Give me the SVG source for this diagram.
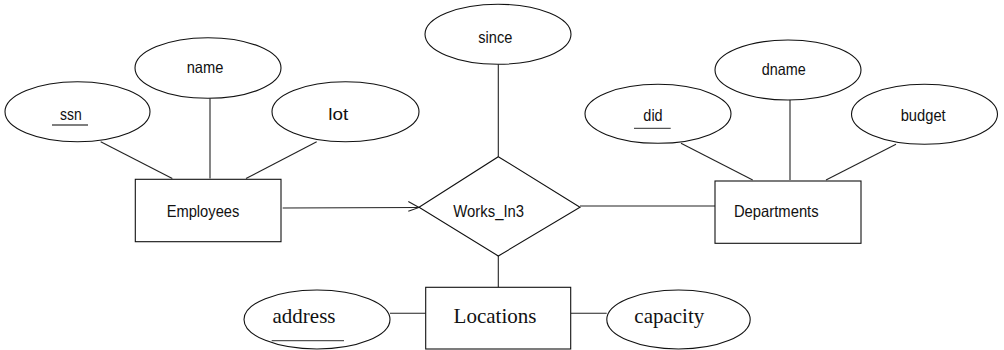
<svg xmlns="http://www.w3.org/2000/svg" width="1004" height="350" viewBox="0 0 1004 350">
<style>
.s{fill:#fff;stroke:#111;stroke-width:1.1}
.c{fill:none;stroke:#222;stroke-width:1.1}
.t{font-family:"Liberation Sans",Arial,sans-serif;font-size:16.5px;fill:#111;text-anchor:middle}
.r{font-family:"Liberation Serif","Times New Roman",serif;font-size:21px;fill:#111;text-anchor:middle}
.u{stroke:#555;stroke-width:1.3}
</style>
<rect width="1004" height="350" fill="#fff"/>
<g id="connectors">
<line class="c" x1="100.7" y1="141.7" x2="172.3" y2="178.5"/>
<line class="c" x1="210" y1="98.3" x2="210" y2="178.5"/>
<line class="c" x1="316.7" y1="141.7" x2="246" y2="178.5"/>
<line class="c" x1="681" y1="143.3" x2="752.7" y2="180"/>
<line class="c" x1="790" y1="100" x2="790" y2="180"/>
<line class="c" x1="896" y1="144.3" x2="826" y2="180"/>
<line class="c" x1="498.3" y1="64.3" x2="498.3" y2="156.7"/>
<line class="c" x1="282.7" y1="208" x2="419" y2="207.5"/>
<polyline class="c" points="408.3,201.5 419,207.5 408.3,211.3"/>
<line class="c" x1="580" y1="206" x2="715" y2="206"/>
<line class="c" x1="498.3" y1="256" x2="498.3" y2="287.3"/>
<line class="c" x1="390" y1="313.3" x2="425.7" y2="313.3"/>
<line class="c" x1="570.7" y1="313.3" x2="606.7" y2="313.3"/>
</g>
<g id="ssn"><ellipse class="s" cx="77.5" cy="111.7" rx="72.5" ry="30"/><text class="t" x="70.8" y="120" textLength="21.7" lengthAdjust="spacingAndGlyphs">ssn</text><line class="u" x1="52" y1="125" x2="88" y2="125"/></g>
<g id="name"><ellipse class="s" cx="208" cy="68" rx="73" ry="30.3"/><text class="t" x="205" y="73" textLength="36.7" lengthAdjust="spacingAndGlyphs">name</text></g>
<g id="lot"><ellipse class="s" cx="345.5" cy="111.7" rx="73.5" ry="30"/><text class="t" x="338.3" y="120" textLength="20" lengthAdjust="spacingAndGlyphs">lot</text></g>
<g id="Employees"><rect class="s" x="135.3" y="179.3" width="145.7" height="62.4"/><text class="t" x="203" y="216.7" textLength="72.7" lengthAdjust="spacingAndGlyphs">Employees</text></g>
<g id="since"><ellipse class="s" cx="498" cy="34.3" rx="73" ry="30"/><text class="t" x="495.3" y="42.5" textLength="34" lengthAdjust="spacingAndGlyphs">since</text></g>
<g id="Works_In3"><polygon class="s" points="498.3,156.7 580,207.3 498.3,256 419,207.3"/><text class="t" x="488.7" y="216.7" textLength="70.7" lengthAdjust="spacingAndGlyphs">Works_In3</text></g>
<g id="did"><ellipse class="s" cx="658" cy="113.8" rx="73" ry="29.5"/><text class="t" x="653" y="121" textLength="19.3" lengthAdjust="spacingAndGlyphs">did</text><line class="u" x1="634" y1="128.3" x2="670.7" y2="128.3"/></g>
<g id="dname"><ellipse class="s" cx="788" cy="70" rx="73" ry="30"/><text class="t" x="783.7" y="75" textLength="44" lengthAdjust="spacingAndGlyphs">dname</text></g>
<g id="budget"><ellipse class="s" cx="924.5" cy="114.3" rx="73" ry="30"/><text class="t" x="923.2" y="121" textLength="45" lengthAdjust="spacingAndGlyphs">budget</text></g>
<g id="Departments"><rect class="s" x="715" y="181" width="146" height="62.3"/><text class="t" x="776.3" y="216.7" textLength="84.7" lengthAdjust="spacingAndGlyphs">Departments</text></g>
<g id="Locations"><rect class="s" x="425.7" y="287.3" width="145" height="61.7"/><text class="r" x="495" y="323.3">Locations</text></g>
<g id="address"><ellipse class="s" cx="317" cy="319.5" rx="73" ry="29.5"/><text class="r" x="304" y="322.7">address</text><line class="u" x1="271.7" y1="340.7" x2="344" y2="340.7"/></g>
<g id="capacity"><ellipse class="s" cx="678.5" cy="319.5" rx="71.7" ry="29.5"/><text class="r" x="669.3" y="322.7">capacity</text></g>
</svg>
